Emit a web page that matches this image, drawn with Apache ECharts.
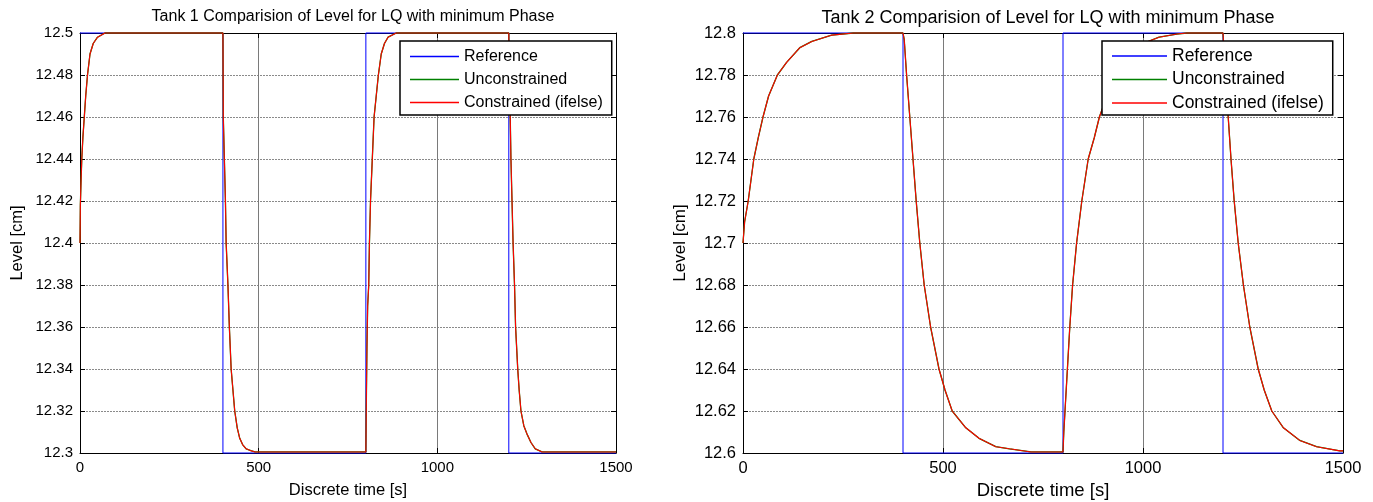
<!DOCTYPE html>
<html><head><meta charset="utf-8">
<script src="https://cdn.jsdelivr.net/npm/echarts@6/dist/echarts.min.js"></script>
<style>html,body{margin:0;padding:0;background:#fff}#c{width:1373px;height:502px}</style>
</head><body><div id="c"></div>
<script>
// ---- data ----
const titles = ['Tank 1 Comparision of Level for LQ with minimum Phase', 'Tank 2 Comparision of Level for LQ with minimum Phase'];
const seriesNames = ['Reference', 'Unconstrained', 'Constrained (ifelse)'];
const xLabel = 'Discrete time [s]';
const yLabel = 'Level [cm]';

// Reference (step) signals
const refTime = [0, 400, 400, 800, 800, 1200, 1200, 1500];
const tank1Ref = [12.5, 12.5, 12.3, 12.3, 12.5, 12.5, 12.3, 12.3];
const tank2Ref = [12.8, 12.8, 12.6, 12.6, 12.8, 12.8, 12.6, 12.6];

// Tank 1 response (constrained; unconstrained overlaps it)
const tank1Time = [0, 1, 3, 5, 8, 12, 16, 21, 28, 37, 49, 70, 400, 401, 404, 407, 409, 414, 418, 423, 428, 433, 440, 447, 455, 465, 480, 490, 800, 801, 803, 805, 808, 810, 813, 818, 823, 829, 835, 843, 852, 862, 885, 1200, 1201, 1204, 1206, 1209, 1212, 1216, 1219, 1225, 1229, 1234, 1242, 1251, 1262, 1274, 1293, 1500];
const tank1Level = [12.40, 12.418, 12.43, 12.44, 12.45, 12.46, 12.47, 12.48, 12.49, 12.495, 12.498, 12.5, 12.5, 12.46, 12.44, 12.42, 12.40, 12.38, 12.36, 12.34, 12.33, 12.32, 12.312, 12.307, 12.304, 12.302, 12.301, 12.3005, 12.3005, 12.32, 12.35, 12.37, 12.38, 12.40, 12.42, 12.44, 12.46, 12.47, 12.48, 12.49, 12.495, 12.498, 12.5, 12.5, 12.48, 12.46, 12.44, 12.42, 12.40, 12.38, 12.36, 12.34, 12.33, 12.32, 12.313, 12.309, 12.305, 12.302, 12.3005, 12.3005];

// Tank 2 response
const tank2Time = [0, 4, 13, 27, 38, 50, 64, 86, 109, 142, 172, 222, 276, 400, 403, 409, 413, 417, 425, 433, 442, 453, 469, 490, 505, 523, 557, 590, 632, 666, 720, 800, 802, 805, 811, 817, 824, 834, 847, 863, 878, 891, 910, 935, 965, 1000, 1040, 1085, 1110, 1200, 1203, 1207, 1210, 1213, 1220, 1228, 1238, 1251, 1267, 1288, 1303, 1322, 1351, 1392, 1434, 1492, 1500];
const tank2Level = [12.70, 12.71, 12.72, 12.74, 12.75, 12.76, 12.77, 12.78, 12.786, 12.793, 12.796, 12.799, 12.8, 12.8, 12.797, 12.78, 12.77, 12.76, 12.74, 12.72, 12.70, 12.68, 12.66, 12.64, 12.63, 12.62, 12.612, 12.607, 12.603, 12.602, 12.6005, 12.6005, 12.61, 12.62, 12.64, 12.66, 12.68, 12.70, 12.72, 12.74, 12.75, 12.76, 12.77, 12.78, 12.789, 12.795, 12.798, 12.7995, 12.8, 12.8, 12.79, 12.78, 12.77, 12.76, 12.74, 12.72, 12.70, 12.68, 12.66, 12.64, 12.63, 12.62, 12.612, 12.606, 12.603, 12.601, 12.601];

const xRange = [0, 1500, 500];
const yRanges = [[12.3, 12.5, 0.02], [12.6, 12.8, 0.02]];

// ---- chart ----
const FONT = '"Liberation Sans", Arial, sans-serif';
const pair = (t, v) => t.map((x, i) => [x, v[i]]);
const refs = [tank1Ref, tank2Ref];
const resp = [[tank1Time, tank1Level], [tank2Time, tank2Level]];
const grids = [
  {left: 80, right: 1373 - 616, top: 33, bottom: 49, containLabel: false, outerBoundsMode: 'none'},
  {left: 743, right: 1373 - 1343, top: 33, bottom: 49, containLabel: false, outerBoundsMode: 'none'}
];
// per-panel text styling (the two panels are rendered at slightly different scales)
const st = [
  {title: 16, tick: 15, xname: 16.5, xgap: 29, yname: 16.5, ygap: 54, legend: 16, lh: 17, lgap: 6, pad: [7, 9, 4, 10], iconW: 49, lx: 400},
  {title: 18, tick: 16.5, xname: 18.5, xgap: 28, yname: 17, ygap: 54.5, legend: 17.5, lh: 18, lgap: 5.5, pad: [6, 9, 3, 10], iconW: 55, lx: 1102}
];
const option = {
  animation: false,
  backgroundColor: '#fff',
  title: [], grid: grids, xAxis: [], yAxis: [], legend: [], series: []
};
const tick = {show: true, inside: true, length: 5, lineStyle: {color: '#000'}};
const frame = {show: true, onZero: false, lineStyle: {color: '#000', width: 1}};
for (let g = 0; g < 2; g++) {
  const s = st[g];
  const gr = grids[g];
  const cx = gr.left + (1373 - gr.right - gr.left) / 2;
  option.title.push({text: titles[g], left: cx, top: 4, textAlign: 'center',
    textStyle: {fontFamily: FONT, fontSize: s.title, fontWeight: 'normal', color: '#000'}});
  const [ymin, ymax, yint] = yRanges[g];
  option.xAxis.push({type: 'value', gridIndex: g, min: xRange[0], max: xRange[1], interval: xRange[2],
    name: xLabel, nameLocation: 'middle', nameGap: s.xgap,
    nameTextStyle: {fontFamily: FONT, fontSize: s.xname, color: '#000'},
    axisLine: frame, axisTick: tick,
    axisLabel: {fontFamily: FONT, fontSize: s.tick, color: '#000', margin: 7, formatter: v => String(v)},
    splitLine: {show: true, lineStyle: {color: '#7a7a7a', width: 1}}});
  option.xAxis.push({type: 'value', gridIndex: g, position: 'top', min: xRange[0], max: xRange[1], interval: xRange[2],
    axisLine: frame, axisTick: tick, axisLabel: {show: false}, splitLine: {show: false}});
  option.yAxis.push({type: 'value', gridIndex: g, min: ymin, max: ymax, interval: yint,
    name: yLabel, nameLocation: 'middle', nameGap: s.ygap,
    nameTextStyle: {fontFamily: FONT, fontSize: s.yname, color: '#000'},
    axisLine: frame, axisTick: tick,
    axisLabel: {fontFamily: FONT, fontSize: s.tick, color: '#000', margin: 7,
      formatter: v => String(+v.toFixed(2))},
    splitLine: {show: true, lineStyle: {color: '#8a8a8a', width: 1, type: [2, 1]}}});
  option.yAxis.push({type: 'value', gridIndex: g, position: 'right', min: ymin, max: ymax, interval: yint,
    axisLine: frame, axisTick: tick, axisLabel: {show: false}, splitLine: {show: false}});
  option.legend.push({
    left: s.lx, top: 41, orient: 'vertical',
    data: seriesNames, icon: 'rect', itemWidth: s.iconW, itemHeight: 1.5, itemGap: s.lgap,
    padding: s.pad, borderColor: '#000', borderWidth: 1.5, backgroundColor: '#fff',
    selectedMode: false,
    textStyle: {fontFamily: FONT, fontSize: s.legend, color: '#000', lineHeight: s.lh}
  });
  const xi = g * 2, yi = g * 2;
  option.series.push({name: seriesNames[0], type: 'line', xAxisIndex: xi, yAxisIndex: yi, data: pair(refTime, refs[g]),
    symbol: 'none', clip: false, color: '#0000ff', lineStyle: {color: '#0000ff', width: 1}});
  option.series.push({name: seriesNames[1], type: 'line', xAxisIndex: xi, yAxisIndex: yi, data: pair(resp[g][0], resp[g][1]),
    symbol: 'none', clip: false, color: '#008000', lineStyle: {color: '#008000', width: 1.3}});
  option.series.push({name: seriesNames[2], type: 'line', xAxisIndex: xi, yAxisIndex: yi, data: pair(resp[g][0], resp[g][1]),
    symbol: 'none', clip: false, color: '#ff0000', lineStyle: {color: '#ff0000', width: 1.1}});
}
const chart = echarts.init(document.getElementById('c'), null, {renderer: 'canvas'});
chart.setOption(option);
</script></body></html>
